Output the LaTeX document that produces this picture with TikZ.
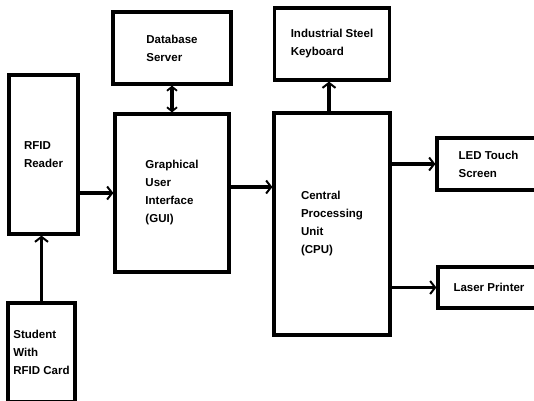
\documentclass[tikz,border=0pt]{standalone}
\usepackage{fontspec}
\setmainfont{Liberation Sans}
\usetikzlibrary{arrows.meta}
\begin{document}
\begin{tikzpicture}[x=1pt, y=-1pt, line join=miter, line width=3.2pt,
    box/.style={draw, align=left, inner sep=0pt,
        font=\fontsize{11.5}{18}\selectfont\bfseries},
    arr/.style={-{Straight Barb[length=5pt, width=13pt, line width=2pt]}},
    arrs/.style={{Straight Barb[length=4pt, width=10pt, line width=1.8pt]}-{Straight Barb[length=4pt, width=10pt, line width=1.8pt]}}]
    \useasboundingbox (0,0) rectangle (534,400);
    \node[box, minimum width=118pt, minimum height=72pt] (db) at (172,48) {Database\\Server};
    \node[box, minimum width=69pt, minimum height=159pt] (rfid) at (43.5,154.5) {RFID\\Reader};
    \node[box, minimum width=114pt, minimum height=158pt] (gui) at (172,193) {Graphical\\User\\Interface\\(GUI)};
    \node[box, minimum width=115pt, minimum height=72pt] (kb) at (332,44) {Industrial Steel\\Keyboard};
    \node[box, minimum width=116pt, minimum height=222pt] (cpu) at (332,224) {Central\\Processing\\Unit\\(CPU)};
    \node[box, minimum width=103pt, minimum height=52pt] (led) at (488.5,164) {LED Touch\\Screen};
    \node[box, minimum width=102pt, minimum height=41pt] (laser) at (489,287.5) {Laser Printer};
    \node[box, minimum width=67pt, minimum height=99pt] (student) at (41.5,352.5) {Student\\With\\RFID Card};
    \draw[arr] (student.north) -- (student.north |- rfid.south);
    \draw[arr] (rfid.east |- gui) -- (gui.west);
    \draw[arrs] (db.south) -- (gui.north);
    \draw[arr] ([yshift=6pt]gui.east) -- ([yshift=6pt]gui.east -| cpu.west);
    \draw[arr] ([xshift=-3pt]cpu.north) -- ([xshift=-3pt]kb.south);
    \draw[arr] (cpu.east |- led) -- (led.west);
    \draw[arr] (cpu.east |- laser) -- (laser.west);
\end{tikzpicture}
\end{document}
